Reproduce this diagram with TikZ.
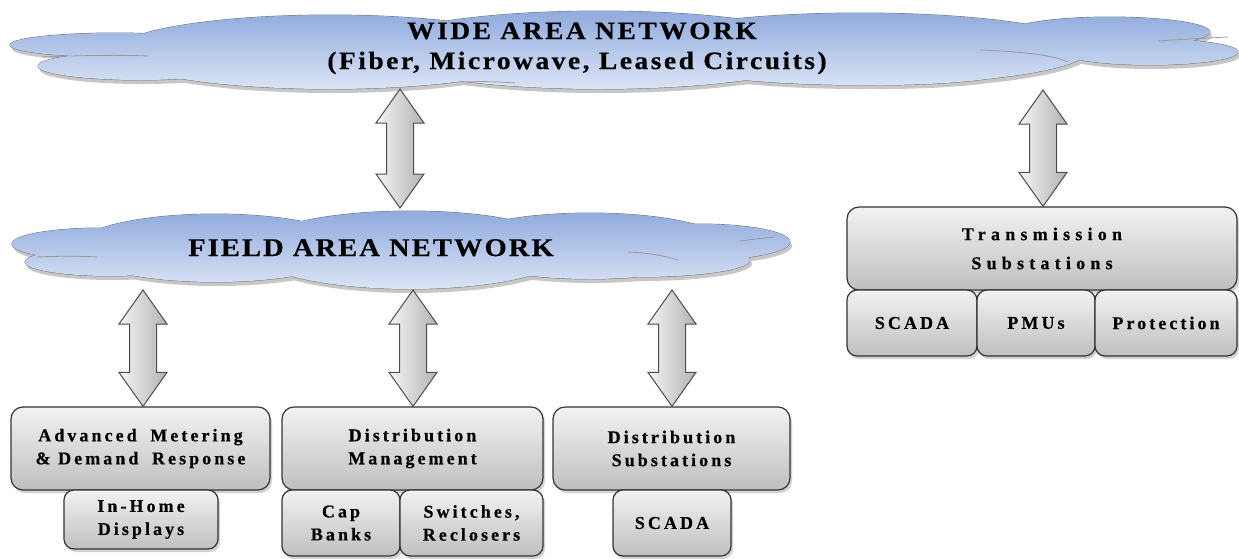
\documentclass[tikz,border=0pt]{standalone}
\usepackage{fontspec}
\setmainfont{Liberation Serif}
\newfontfamily\boxfont[LetterSpace=17,BoldFeatures={FakeBold=0.4}]{Liberation Serif}
\newfontfamily\boxfontw[LetterSpace=29,BoldFeatures={FakeBold=0.4}]{Liberation Serif}
\newfontfamily\wanfont[LetterSpace=10,FakeStretch=1.1,BoldFeatures={FakeBold=0.4}]{Liberation Serif}
\newfontfamily\fanfont[LetterSpace=8,FakeStretch=1.12,BoldFeatures={FakeBold=0.4}]{Liberation Serif}
\usetikzlibrary{calc,shadows}
\definecolor{cloudtop}{RGB}{140,168,220}
\definecolor{cloudbot}{RGB}{222,231,246}
\tikzset{
  box/.style={draw=black!80, line width=1.2pt, rounded corners=12pt,
    top color=black!5, bottom color=black!25,
    drop shadow={shadow xshift=2pt, shadow yshift=-3pt, fill=black!35, opacity=0.5},
    align=center, font=\boxfont\bfseries\fontsize{18}{23}\selectfont, inner sep=0pt},
  subbox/.style={box, rounded corners=10pt},
  dbl/.style={draw=black!70, line width=1pt, left color=black!4, right color=black!30},
  cloudline/.style={draw=black!55, line width=0.9pt},
  innerline/.style={draw=black!40, line width=0.8pt},
  wantxt/.style={font=\wanfont\bfseries\fontsize{25}{28}\selectfont, inner sep=0pt},
  fantxt/.style={font=\fanfont\bfseries\fontsize{25.5}{28}\selectfont, inner sep=0pt},
}
\newcommand\darrow[2]{%
  \path[dbl] (#1) -- ($(#1)+(24,34)$) -- ($(#1)+(13.5,34)$) -- ($(#2)+(13.5,-34)$)
    -- ($(#2)+(24,-34)$) -- (#2) -- ($(#2)+(-24,-34)$) -- ($(#2)+(-13.5,-34)$)
    -- ($(#1)+(-13.5,34)$) -- ($(#1)+(-24,34)$) -- cycle;}
\def\wanlist{115/45/105pt/12pt, 140/66/102pt/14pt, 330/52/215pt/37pt, 600/50/230pt/39pt,
  860/49/230pt/36pt, 1110/32/100pt/15pt, 1150/52/88pt/13pt, 880/65/150pt/20pt}
\def\fanlist{100/244/88pt/16pt, 110/262/85pt/14pt, 215/248/140pt/34pt, 410/250/160pt/39pt,
  590/246/140pt/33pt, 700/242/90pt/18pt, 640/260/110pt/17pt}
\begin{document}
\begin{tikzpicture}[x=1pt,y=-1pt]
\useasboundingbox (0,0) rectangle (1239,558);
% ---------- WAN cloud
\fill[black!22] foreach \a/\b/\c/\d in \wanlist {($(\a,\b)+(2,4)$) ellipse [x radius=\c, y radius=\d]};
\path[cloudline] foreach \a/\b/\c/\d in \wanlist {(\a,\b) ellipse [x radius=\c, y radius=\d]};
\begin{scope}
  \clip foreach \a/\b/\c/\d in \wanlist {(\a,\b) ellipse [x radius=\c, y radius=\d]};
  \shade[top color=cloudtop, bottom color=cloudbot] (0,8) rectangle (1239,92);
\end{scope}
\path[innerline] (42,57) .. controls (90,55) and (125,55) .. (148,56);
\path[innerline] (465,82) .. controls (485,81) and (500,82) .. (515,83);
\path[innerline] (980,50) .. controls (1030,52) and (1055,56) .. (1068,62);
\path[innerline] (1158,41) .. controls (1185,39) and (1210,38) .. (1228,37);
% ---------- FAN cloud
\fill[black!22] foreach \a/\b/\c/\d in \fanlist {($(\a,\b)+(2,4)$) ellipse [x radius=\c, y radius=\d]};
\path[cloudline] foreach \a/\b/\c/\d in \fanlist {(\a,\b) ellipse [x radius=\c, y radius=\d]};
\begin{scope}
  \clip foreach \a/\b/\c/\d in \fanlist {(\a,\b) ellipse [x radius=\c, y radius=\d]};
  \shade[top color=cloudtop, bottom color=cloudbot] (0,208) rectangle (800,292);
\end{scope}
\path[innerline] (36,257) .. controls (60,256) and (80,256) .. (97,257);
\path[innerline] (628,252) .. controls (650,253) and (665,256) .. (678,260);
\path[innerline] (740,241) .. controls (755,239) and (765,238) .. (775,237);
% ---------- cloud texts
\node[wantxt, anchor=base] (wan1) at (582,39) {WIDE AREA NETWORK};
\node[wantxt, anchor=base] (wan2) at (577,69) {(Fiber, Microwave, Leased Circuits)};
\node[fantxt, anchor=base] (fan) at (371,256) {FIELD AREA NETWORK};
% ---------- boxes
\node[box, minimum width=390pt, minimum height=83pt, font=\boxfontw\bfseries\fontsize{18}{29}\selectfont] (trans) at (1042,248.5) {Transmission\\Substations};
\node[subbox, minimum width=130pt, minimum height=66pt] (scada1) at (912,323) {SCADA};
\node[subbox, minimum width=118pt, minimum height=66pt] (pmu) at (1036,323) {PMUs};
\node[subbox, minimum width=142pt, minimum height=66pt] (prot) at (1166,323) {Protection};

\node[box, minimum width=259pt, minimum height=83pt] (ami) at (140.5,448.5) {Advanced\hspace{6pt} Metering\\\&\ Demand\hspace{6pt} Response};
\node[subbox, minimum width=154pt, minimum height=59pt] (ihd) at (141,519.5) {In-Home\\Displays};

\node[box, minimum width=261pt, minimum height=83pt] (dm) at (412.5,448.5) {Distribution\\Management};
\node[subbox, minimum width=118pt, minimum height=66pt] (cap) at (341,523) {Cap\\Banks};
\node[subbox, minimum width=143pt, minimum height=66pt] (sw) at (471.5,523) {Switches,\\Reclosers};

\node[box, minimum width=237pt, minimum height=83pt] (ds) at (671.5,448.5) {Distribution\\Substations};
\node[subbox, minimum width=118pt, minimum height=66pt] (scada2) at (672,523) {SCADA};
% ---------- arrows
\coordinate (wanA) at (400,89);
\coordinate (fanN) at (400,208);
\coordinate (wanB) at (1043,90);
\coordinate (fanS1) at (143,290);
\coordinate (fanS2) at (413,290);
\coordinate (fanS3) at (672,290);
\darrow{wanA}{fanN}
\darrow{wanB}{wanB |- trans.north}
\darrow{fanS1}{fanS1 |- ami.north}
\darrow{fanS2}{fanS2 |- dm.north}
\darrow{fanS3}{fanS3 |- ds.north}
\end{tikzpicture}
\end{document}
